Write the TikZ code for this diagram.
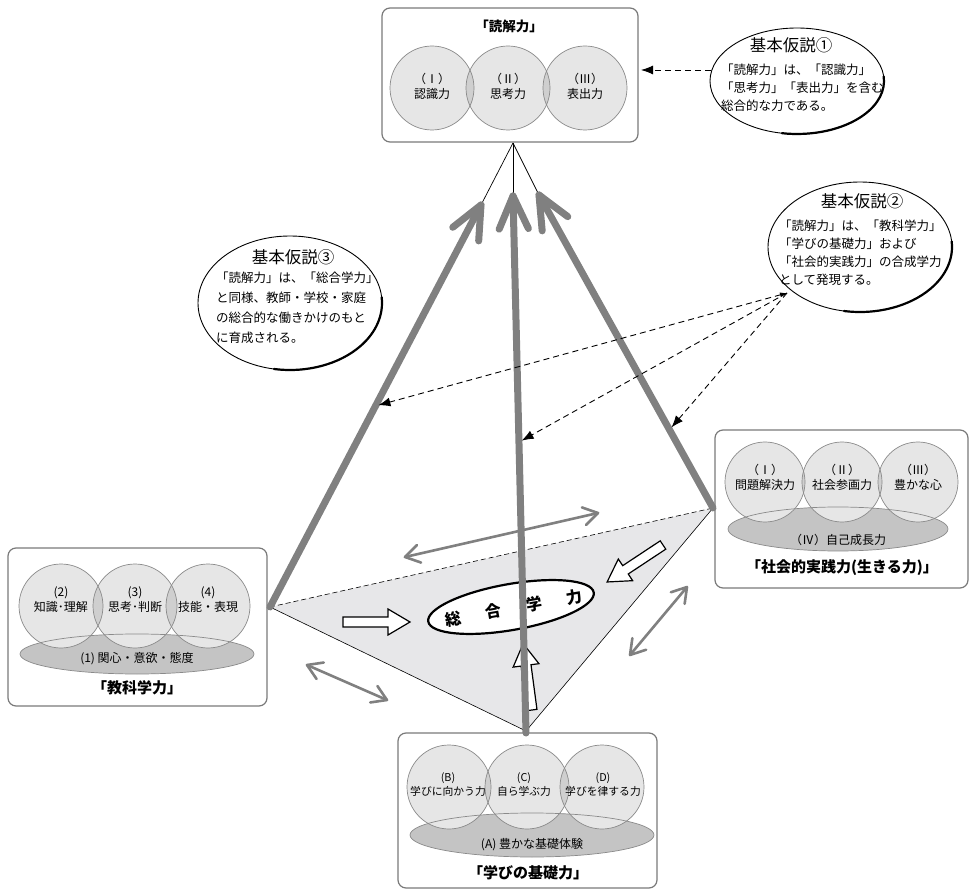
\documentclass[tikz,border=0pt]{standalone}
\usepackage{fontspec}
\setmainfont{Noto Sans CJK JP}
\usetikzlibrary{calc,shapes.geometric,arrows.meta}
\definecolor{cfill}{HTML}{E6E6E6}
\definecolor{clens}{HTML}{CFCFCF}
\definecolor{cell}{HTML}{C4C4C4}
\definecolor{cline}{HTML}{8A8A8A}
\definecolor{cthick}{HTML}{808080}
\definecolor{ctri}{HTML}{E7E7E9}
\definecolor{cbox}{HTML}{7A7A7A}
\newcommand\myfs[2]{\fontsize{#1pt}{#2pt}\selectfont}
\newcommand\mycircfill[5]{%
  \foreach \cx in {#1,#2,#3}{\fill[cfill] (\cx,#4) circle[radius=#5pt];}
  \begin{scope}\clip (#1,#4) circle[radius=#5pt]; \fill[clens] (#2,#4) circle[radius=#5pt];\end{scope}
  \begin{scope}\clip (#2,#4) circle[radius=#5pt]; \fill[clens] (#3,#4) circle[radius=#5pt];\end{scope}}
\newcommand\mycircline[5]{%
  \foreach \cx in {#1,#2,#3}{\draw[cline, line width=0.7pt] (\cx,#4) circle[radius=#5pt];}}
\newcommand\mychev[5]{\draw[#5] ($(#1)!#3!#4:(#2)$) -- (#1) -- ($(#1)!#3!-#4:(#2)$);}
\newcommand\myhollow[5]{%
  \begin{scope}[shift={(#1,#2)}, rotate=#3]
  \draw[hollow] (0pt,-5pt) -- (#5pt,-5pt) -- (#5pt,-13pt) -- (#4pt,0pt) -- (#5pt,13pt) -- (#5pt,5pt) -- (0pt,5pt) -- cycle;
  \end{scope}}
\begin{document}
\begin{tikzpicture}[x=1pt,y=-1pt, every node/.style={inner sep=0pt, outer sep=0pt},
 boxst/.style={draw=cbox, line width=1.2pt, rounded corners=8pt, fill=white, anchor=north west},
 thickln/.style={draw=cthick, line width=7pt, line cap=round, line join=round},
 dbl/.style={draw=cthick, line width=2.6pt, line cap=round, line join=round},
 apexln/.style={draw=black, line width=0.7pt},
 dasharr/.style={draw=black, line width=0.9pt, dash pattern=on 6pt off 4pt, -{Latex[length=12pt,width=9pt]}, shorten >=3pt},
 hollow/.style={draw=black, line width=1.2pt, fill=white, line join=miter},
 bubble/.style={draw=black, line width=0.9pt, ellipse, fill=white},
 lbl/.style={align=center, font=\myfs{12}{15}},
 lbls/.style={align=center, font=\myfs{10.8}{14}},
 elbl/.style={font=\myfs{12}{14}},
 ttl/.style={font=\myfs{15}{17}\bfseries},
 htitle/.style={font=\myfs{16.5}{18}},
 hbody/.style={align=left, font=\myfs{12.5}{18}, anchor=west}]
\useasboundingbox (0,0) rectangle (970,890);

% ---------- central triangle ----------
\coordinate (L) at (270,607);
\coordinate (R) at (713,508);
\coordinate (Bt) at (526,731);
\fill[ctri] (L) -- (R) -- (Bt) -- cycle;
\draw[line width=0.6pt] (R) -- (Bt) -- (L);
\draw[line width=0.6pt, dash pattern=on 5pt off 3pt] (L) -- (R);

% ---------- gray double arrows ----------
\coordinate (d1a) at (405,557); \coordinate (d1b) at (598,513);
\coordinate (d2a) at (307,665); \coordinate (d2b) at (387,700);
\coordinate (d3a) at (687,587); \coordinate (d3b) at (630,655);
\draw[dbl] (d1a) -- (d1b); \mychev{d1a}{d1b}{17pt}{32}{dbl} \mychev{d1b}{d1a}{17pt}{32}{dbl}
\draw[dbl] (d2a) -- (d2b); \mychev{d2a}{d2b}{17pt}{32}{dbl} \mychev{d2b}{d2a}{17pt}{32}{dbl}
\draw[dbl] (d3a) -- (d3b); \mychev{d3a}{d3b}{17pt}{32}{dbl} \mychev{d3b}{d3a}{17pt}{32}{dbl}

% ---------- top box ----------
\node[boxst, minimum width=256pt, minimum height=134pt] (topbox) at (382,8) {};
\mycircfill{432}{508}{585}{88}{42}
\mycircline{432}{508}{585}{88}{42}
\node[ttl, font=\myfs{13.5}{15}\bfseries] (tt) at (509,26) {「読解力」};
\node[lbl] (t1) at (432,86) {（Ⅰ）\\認識力};
\node[lbl] (t2) at (508,86) {（Ⅱ）\\思考力};
\node[lbl] (t3) at (585,86) {（Ⅲ）\\表出力};

% ---------- left box ----------
\node[boxst, minimum width=259pt, minimum height=158pt] (leftbox) at (8,548) {};
\fill[cell] (137,654) ellipse[x radius=117pt, y radius=20pt];
\mycircfill{61}{135}{208}{606}{42}
\draw[cline, line width=0.7pt] (137,654) ellipse[x radius=117pt, y radius=20pt];
\mycircline{61}{135}{208}{606}{42}
\node[lbl] (l2) at (61,600) {(2)\\知識･理解};
\node[lbl] (l3) at (135,600) {(3)\\思考･判断};
\node[lbl] (l4) at (208,600) {(4)\\技能・表現};
\node[elbl] (l1) at (137,659) {(1) 関心・意欲・態度};
\node[ttl] (lt) at (137,688) {「教科学力」};

% ---------- right box ----------
\node[boxst, minimum width=253pt, minimum height=158pt] (rightbox) at (715,430) {};
\fill[cell] (838,529) ellipse[x radius=110pt, y radius=22pt];
\mycircfill{765}{842}{918}{482}{40}
\draw[cline, line width=0.7pt] (838,529) ellipse[x radius=110pt, y radius=22pt];
\mycircline{765}{842}{918}{482}{40}
\node[lbl] (r1) at (765,477) {（Ⅰ）\\問題解決力};
\node[lbl] (r2) at (842,477) {（Ⅱ）\\社会参画力};
\node[lbl] (r3) at (918,477) {（Ⅲ）\\豊かな心};
\node[elbl] (r4) at (838,540) {（Ⅳ）自己成長力};
\node[ttl] (rt) at (842,568) {「社会的実践力(生きる力)」};

% ---------- bottom box ----------
\node[boxst, minimum width=259pt, minimum height=155pt] (botbox) at (398,733) {};
\fill[cell] (532,835) ellipse[x radius=122pt, y radius=22pt];
\mycircfill{449}{527}{602}{787}{42}
\draw[cline, line width=0.7pt] (532,835) ellipse[x radius=122pt, y radius=22pt];
\mycircline{449}{527}{602}{787}{42}
\node[lbls] (b1) at (448,785) {(B)\\学びに向かう力};
\node[lbls] (b2) at (524,785) {(C)\\自ら学ぶ力};
\node[lbls] (b3) at (603,785) {(D)\\学びを律する力};
\node[elbl] (b4) at (532,845) {(A) 豊かな基礎体験};
\node[ttl] (bt) at (528,873) {「学びの基礎力」};

% ---------- hollow arrows and central ellipse ----------
\myhollow{343}{622}{0}{67}{45}
\myhollow{663}{545}{213.5}{67}{45}
\myhollow{532}{710}{97.6}{67}{45}
\node[draw, ellipse, line width=2.2pt, fill=white, minimum width=168pt, minimum height=46pt, rotate=10] (sogo) at (511,607) {};
\node[rotate=10, font=\myfs{16}{16}\bfseries] (sogot) at (514,608) {総\hspace{25pt}合\hspace{25pt}学\hspace{25pt}力};

% ---------- pyramid edges ----------
\coordinate (Apex) at (513,143);
\coordinate (Ltip) at (481,205);
\coordinate (Mtip) at (513,196);
\coordinate (Rtip) at (539,195);
\coordinate (Mbase) at (526,733);
\draw[apexln] (Ltip) -- (Apex);
\draw[apexln] (Mtip) -- (Apex);
\draw[apexln] (Rtip) -- (Apex);
\draw[thickln] (L) -- (Ltip); \mychev{Ltip}{L}{36pt}{24}{thickln}
\draw[thickln] (Mbase) -- (Mtip); \mychev{Mtip}{Mbase}{36pt}{24}{thickln}
\draw[thickln] (R) -- (Rtip); \mychev{Rtip}{R}{36pt}{24}{thickln}

% ---------- hypothesis bubbles ----------
\node[bubble, minimum width=174pt, minimum height=106pt] (h1) at (797,81) {};
\draw[line width=2.2pt, line cap=round] ($(h1.center)+(-100:87pt and 53pt)$) arc[start angle=-100, end angle=5, x radius=87pt, y radius=53pt];
\node[htitle] (h1t) at (791,45) {基本仮説①};
\node[hbody] (h1b) at (721,88) {「読解力」は、「認識力」\\「思考力」「表出力」を含む\\総合的な力である。};

\node[bubble, minimum width=184pt, minimum height=130pt] (h2) at (860,247) {};
\draw[line width=2.2pt, line cap=round] ($(h2.center)+(-100:92pt and 65pt)$) arc[start angle=-100, end angle=5, x radius=92pt, y radius=65pt];
\node[htitle] (h2t) at (862,201) {基本仮説②};
\node[hbody] (h2b) at (779,253) {「読解力」は、「教科学力」\\「学びの基礎力」および\\「社会的実践力」の合成学力\\として発現する。};

\node[bubble, minimum width=184pt, minimum height=134pt] (h3) at (290,303) {};
\draw[line width=2.2pt, line cap=round] ($(h3.center)+(-100:92pt and 67pt)$) arc[start angle=-100, end angle=5, x radius=92pt, y radius=67pt];
\node[htitle] (h3t) at (293,257) {基本仮説③};
\node[hbody, font=\myfs{12.5}{20}] (h3b) at (216,308) {「読解力」は、「総合学力」\\と同様、教師・学校・家庭\\の総合的な働きかけのもと\\に育成される。};

% ---------- dashed arrows ----------
\coordinate (h1s) at (711,70);
\draw[dasharr] (h1s) -- (topbox.east |- h1s);
\coordinate (S) at (787,293);
\coordinate (eL) at ($(L)!0.5!(Ltip)$);
\coordinate (eM) at ($(Bt)!0.54!(Mtip)$);
\coordinate (eR) at ($(R)!0.25!(Rtip)$);
\draw[dasharr, {Latex[length=7pt,width=5pt]}-{Latex[length=12pt,width=9pt]}] (S) -- (eL);
\draw[dasharr] (S) -- (eM);
\draw[dasharr] (S) -- (eR);
\end{tikzpicture}
\end{document}
